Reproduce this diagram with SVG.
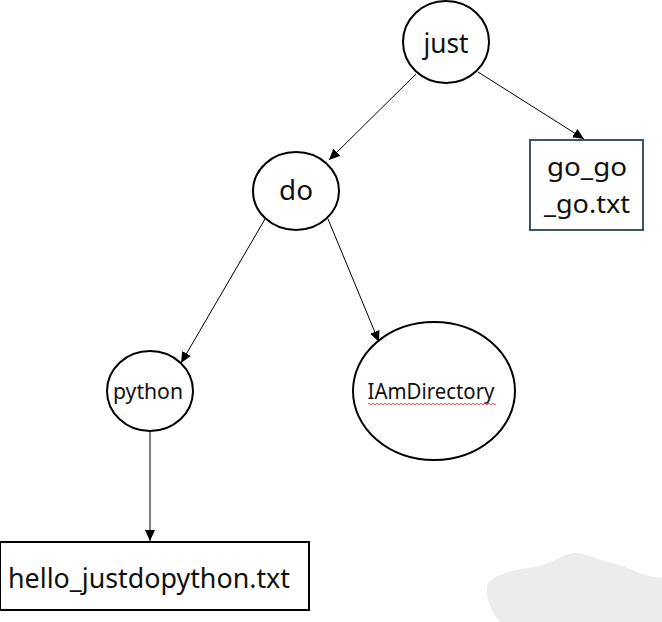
<svg xmlns="http://www.w3.org/2000/svg" width="662" height="622" viewBox="0 0 662 622">
<style>
.node{fill:#fff;stroke:#000;stroke-width:2}
.box2{fill:#fff;stroke:#3e5569;stroke-width:2}
.lbl{font-family:"Noto Sans","Open Sans","Liberation Sans",sans-serif;fill:#111;text-anchor:middle}
.edge{stroke:#000;stroke-width:1;fill:none;marker-end:url(#arr)}
</style>
<defs>
<marker id="arr" markerWidth="12" markerHeight="10" refX="11" refY="5" orient="auto" markerUnits="userSpaceOnUse">
<path d="M0,0 L11,5 L0,10 Z" fill="#000"/>
</marker>
</defs>
<rect width="662" height="622" fill="#fff"/>
<path d="M487,588 C488,574 515,570 540,566 C558,560 565,553 577,553 C588,554 598,560 612,563 C630,567 640,576 662,578 L662,622 L500,622 C492,612 486,600 487,588 Z" fill="#ececec"/>
<g id="edges">
<line class="edge" x1="416" y1="74" x2="329" y2="160"/>
<line class="edge" x1="478" y1="72" x2="584" y2="139"/>
<line class="edge" x1="265" y1="219" x2="181" y2="363"/>
<line class="edge" x1="328" y1="219" x2="379" y2="342"/>
<line class="edge" x1="150" y1="432" x2="150" y2="541"/>
</g>
<g id="just">
<ellipse class="node" cx="446" cy="42" rx="43" ry="41"/>
<text class="lbl" x="446" y="53" font-size="27" textLength="45" lengthAdjust="spacingAndGlyphs">just</text>
</g>
<g id="go_go">
<rect class="box2" x="530" y="140" width="113" height="90"/>
<text class="lbl" x="587" y="176" font-size="26" textLength="80" lengthAdjust="spacingAndGlyphs">go_go</text>
<text class="lbl" x="587" y="213" font-size="26" textLength="86" lengthAdjust="spacingAndGlyphs">_go.txt</text>
</g>
<g id="do">
<ellipse class="node" cx="296" cy="191" rx="43" ry="39"/>
<text class="lbl" x="296" y="200" font-size="27" textLength="34" lengthAdjust="spacingAndGlyphs">do</text>
</g>
<g id="python">
<ellipse class="node" cx="150" cy="391" rx="43" ry="40"/>
<text class="lbl" x="148" y="399" font-size="21" textLength="70" lengthAdjust="spacingAndGlyphs">python</text>
</g>
<g id="IAmDirectory">
<ellipse class="node" cx="434" cy="391" rx="81" ry="69"/>
<text class="lbl" x="431" y="399" font-size="21" textLength="127" lengthAdjust="spacingAndGlyphs">IAmDirectory</text>
<path d="M368,404 q1,-1.5 2,0 t2,0 t2,0 t2,0 t2,0 t2,0 t2,0 t2,0 t2,0 t2,0 t2,0 t2,0 t2,0 t2,0 t2,0 t2,0 t2,0 t2,0 t2,0 t2,0 t2,0 t2,0 t2,0 t2,0 t2,0 t2,0 t2,0 t2,0 t2,0 t2,0 t2,0 t2,0 t2,0 t2,0 t2,0 t2,0 t2,0 t2,0 t2,0 t2,0 t2,0 t2,0 t2,0 t2,0 t2,0 t2,0 t2,0 t2,0 t2,0 t2,0 t2,0 t2,0 t2,0 t2,0 t2,0 t2,0 t2,0 t2,0 t2,0 t2,0 t2,0 t2,0 t2,0 t2,0" fill="none" stroke="#e02020" stroke-width="0.8"/>
</g>
<g id="hello_justdopython">
<rect class="node" x="0" y="542" width="309" height="68"/>
<text class="lbl" x="149" y="588" font-size="28" textLength="282" lengthAdjust="spacingAndGlyphs">hello_justdopython.txt</text>
</g>
</svg>
